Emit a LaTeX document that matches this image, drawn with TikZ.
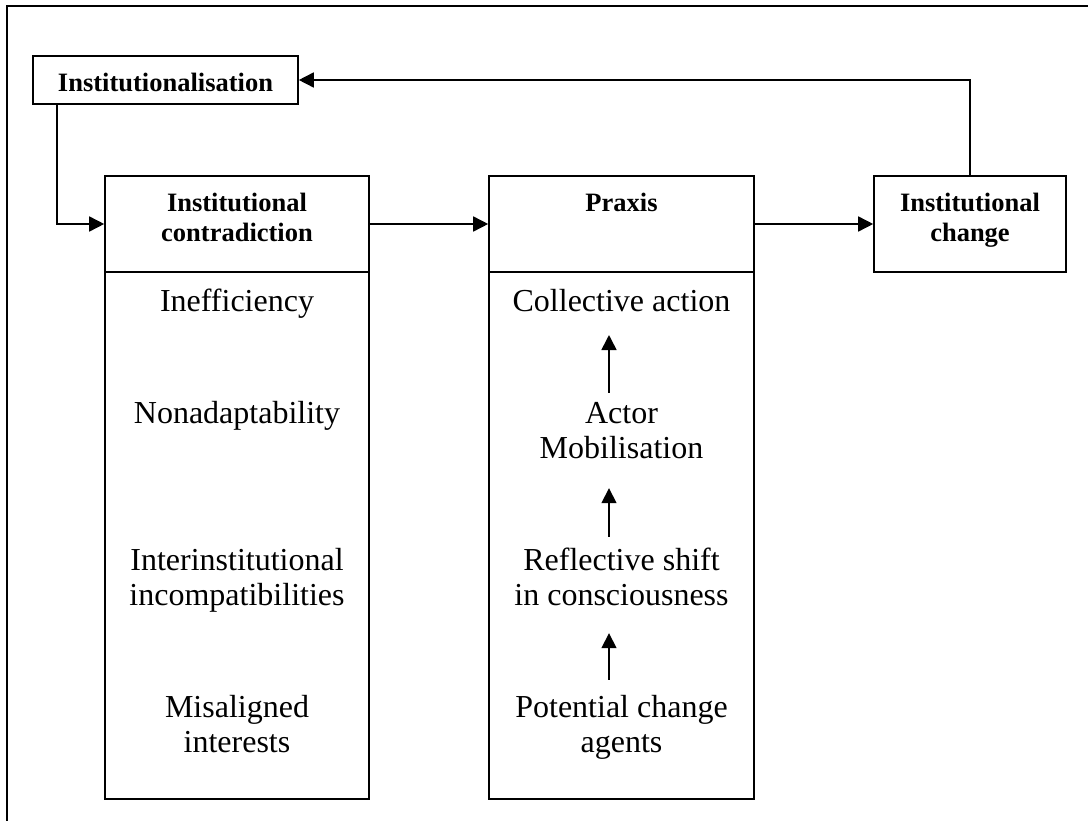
\documentclass[tikz,border=0pt]{standalone}
\usepackage{fontspec}
\setmainfont{Liberation Serif}
\usetikzlibrary{arrows.meta}
\newcommand{\twoline}[2]{\begin{tabular}[t]{@{}c@{}}#1\\#2\end{tabular}}
\begin{document}
\begin{tikzpicture}[x=1pt,y=-1pt,
  box/.style={draw, line width=1.6pt, inner sep=0pt},
  head/.style={anchor=base, inner sep=0pt, font=\fontsize{26.5}{30}\selectfont\bfseries},
  body/.style={anchor=base, inner sep=0pt, font=\fontsize{32}{35}\selectfont},
  arr/.style={line width=1.6pt, -{Triangle[length=15pt,width=15pt]}},
  frame/.style={line width=1.6pt}]
\useasboundingbox (0,0) rectangle (1088,821);
\draw[frame] (7,821) -- (7,6) -- (1088,6);

% boxes
\node[box, minimum width=265pt, minimum height=48pt] (inst) at (165.5,80) {};
\node[box, minimum width=264pt, minimum height=96pt] (h1) at (237,224) {};
\node[box, minimum width=264pt, minimum height=527pt] (b1) at (237,535.5) {};
\node[box, minimum width=265pt, minimum height=96pt] (h2) at (621.5,224) {};
\node[box, minimum width=265pt, minimum height=527pt] (b2) at (621.5,535.5) {};
\node[box, minimum width=192pt, minimum height=96pt] (chg) at (970,224) {};

% headings
\node[head] (tinst) at (165.5,92) {Institutionalisation};
\node[head] (th1) at (237,212) {\twoline{Institutional}{contradiction}};
\node[head] (th2) at (621.5,212) {Praxis};
\node[head] (tchg) at (970,212) {\twoline{Institutional}{change}};

% contradiction list
\node[body] (ineff) at (237,312) {Inefficiency};
\node[body] (nonad) at (237,423) {Nonadaptability};
\node[body] (inter) at (237,570) {\twoline{Interinstitutional}{incompatibilities}};
\node[body] (misal) at (237,717) {\twoline{Misaligned}{interests}};

% praxis list
\node[body] (coll) at (621.5,312) {Collective action};
\node[body] (actor) at (621.5,423) {\twoline{Actor}{Mobilisation}};
\node[body] (refl) at (621.5,570) {\twoline{Reflective shift}{in consciousness}};
\node[body] (pot) at (621.5,717) {\twoline{Potential change}{agents}};

\coordinate (ax) at (609,0);
\draw[arr, shorten <=5.5pt, shorten >=22.5pt] (actor.north -| ax) -- (coll.south -| ax);
\draw[arr, shorten <=8.5pt, shorten >=19.5pt] (refl.north -| ax) -- (actor.south -| ax);
\draw[arr, shorten <=12.5pt, shorten >=17.5pt] (pot.north -| ax) -- (refl.south -| ax);

% connectors between boxes
\draw[arr] ([xshift=25pt]inst.south west) |- (h1.west);
\draw[arr] (h1.east) -- (h2.west);
\draw[arr] (h2.east) -- (chg.west);
\draw[arr] (chg.north) |- (inst.east);
\end{tikzpicture}
\end{document}
